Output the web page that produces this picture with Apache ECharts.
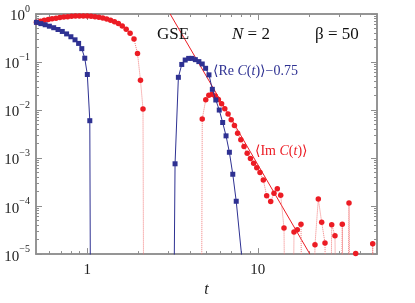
<!DOCTYPE html>
<html><head><meta charset="utf-8">
<script src="https://cdn.jsdelivr.net/npm/echarts@6/dist/echarts.min.js"></script>
<style>html,body{margin:0;padding:0;background:#fff}#c{width:415px;height:303px}</style>
</head><body><div id="c"></div>
<script>
// 0 marks a value that is zero or negative (off the log scale, drawn down to the axis)
// <Re C(t)> - 0.75, first branch
const BLUE1_T = [0.503,0.534,0.566,0.599,0.635,0.673,0.713,0.756,0.801,0.847,0.889,0.928,0.966,1.0,1.034,1.058];
const BLUE1_V = [0.67,0.63,0.597,0.557,0.518,0.476,0.433,0.385,0.336,0.290,0.244,0.19,0.12,0.055,0.006,0];
// <Re C(t)> - 0.75, second branch
const BLUE2_T = [3.12,3.27,3.42,3.58,3.75,3.93,4.11,4.30,4.51,4.72,4.94,5.17,5.41,5.67,5.94,6.22,6.51,6.81,7.13,7.47,8.08];
const BLUE2_V = [0,7.6e-4,0.048,0.089,0.110,0.119,0.119,0.112,0.102,0.091,0.074,0.054,0.027,0.0162,0.010,0.0055,0.0029,0.00132,4.6e-4,1.26e-4,7.6e-6];
// <Im C(t)>
const RED_T = [0.503,0.531,0.559,0.590,0.621,0.655,0.690,0.728,0.767,0.809,0.852,0.898,0.947,0.998,1.052,1.109,1.169,1.232,1.299,1.369,1.443,1.521,1.603,1.690,1.782,1.878,1.969,2.050,2.121,2.164,
  4.62,4.72,4.95,5.16,5.39,5.62,5.87,6.13,6.40,6.69,6.98,7.29,7.61,7.95,8.30,8.66,9.05,9.45,9.86,10.3,10.77,11.27,11.9,12.44,13.01,13.62,14.24,14.91,15.61,16.30,17.04,17.91,18.76,19.64,20.56,21.64,22.63,23.69,24.77,25.94,27.12,28.35,29.69,31.29,32.72,34.26,35.87,37.5,39.27,41.11,43.04,45.06,47.18,49.4];
const RED_V = [0.670,0.705,0.738,0.766,0.794,0.820,0.843,0.863,0.879,0.895,0.908,0.912,0.912,0.908,0.895,0.879,0.855,0.824,0.787,0.741,0.692,0.631,0.562,0.479,0.398,0.302,0.151,0.0417,0.0105,0,
  0,0.00652,0.01637,0.0204,0.0214,0.0195,0.0166,0.0135,0.0107,0.0083,0.0063,0.00479,0.0033,0.0024,0.00174,0.00126,9.8e-4,7.8e-4,6.3e-4,5.0e-4,3.5e-4,1.64e-4,1.24e-4,1.85e-4,2.3e-4,1.68e-4,3.5e-5,0,0,2.9e-5,3.2e-5,4.2e-5,0,0,0,1.56e-5,1.4e-4,4.6e-5,1.71e-5,0,4.1e-5,2.4e-5,0,4.2e-5,0,1.16e-4,0,1.03e-5,0,0,0,0,1.64e-5,0];
// power-law guide line for <Im C(t)>
const FIT_T = [3.06, 20.2];
const FIT_V = [1, 1e-5];
// axis ticks and labels
const X_LABELS = [1, 10];
const X_MAJOR = [1, 10];
const X_MINOR = [0.6,0.7,0.8,0.9,2,3,4,5,6,7,8,9,20,30,40];
const Y_MAJOR = [1e-5,1e-4,1e-3,1e-2,1e-1,1];
const Y_MINOR = [2e-5,3e-5,4e-5,5e-5,6e-5,7e-5,8e-5,9e-5,
  2e-4,3e-4,4e-4,5e-4,6e-4,7e-4,8e-4,9e-4,
  2e-3,3e-3,4e-3,5e-3,6e-3,7e-3,8e-3,9e-3,
  2e-2,3e-2,4e-2,5e-2,6e-2,7e-2,8e-2,9e-2,
  2e-1,3e-1,4e-1,5e-1,6e-1,7e-1,8e-1,9e-1];

const OFF = 1e-12; // plotting stand-in for non-positive values
const SERIF = '"Liberation Serif","DejaVu Serif",serif';
const BLUE = '#2e3192', RED = '#ec1c24', AX = '#8e8e8e';

function pts(T, V) {
  return T.map((t, i) => V[i] > 0 ? [t, V[i]] : { value: [t, OFF], symbol: 'none' });
}
function xAx(pos, ticks, len, labels) {
  return {
    type: 'log', logBase: 10, min: 0.5, max: 50, position: pos,
    axisLine: { show: true, onZero: false, lineStyle: { color: AX, width: 1.5 } },
    axisTick: { show: true, inside: true, length: len, customValues: ticks, lineStyle: { color: AX, width: 1 } },
    axisLabel: labels ? { show: true, customValues: labels, margin: 8, fontFamily: SERIF, fontSize: 15, color: '#222' } : { show: false },
    splitLine: { show: false }, minorTick: { show: false },
    name: labels ? 't' : '', nameLocation: 'middle', nameGap: 24,
    nameTextStyle: { fontFamily: SERIF, fontSize: 16, fontStyle: 'italic', color: '#222' }
  };
}
function yAx(pos, ticks, len, labels) {
  return {
    type: 'log', logBase: 10, min: 1e-5, max: 1, position: pos,
    axisLine: { show: true, onZero: false, lineStyle: { color: AX, width: 1.5 } },
    axisTick: { show: true, inside: true, length: len, customValues: ticks, lineStyle: { color: AX, width: 1 } },
    axisLabel: labels ? {
      show: true, customValues: labels, margin: 6,
      formatter: v => { const e = Math.round(Math.log10(v)); return '{b|10}{s|' + (e === 0 ? '0' : '\u2212' + (-e)) + '}'; },
      rich: {
        b: { fontFamily: SERIF, fontSize: 15, color: '#222', lineHeight: 20, verticalAlign: 'bottom' },
        s: { fontFamily: SERIF, fontSize: 10, color: '#222', lineHeight: 20, verticalAlign: 'top' }
      }
    } : { show: false },
    splitLine: { show: false }, minorTick: { show: false }
  };
}
function txt(x, y, text, size, color, rich) {
  return { type: 'text', x: x, y: y, z: 100,
    style: { text: text, fill: color, font: size + 'px ' + SERIF, textVerticalAlign: 'middle', rich: rich || {} } };
}
function rs(size, color, italic) {
  return { fontFamily: SERIF, fontSize: size, color: color, fontStyle: italic ? 'italic' : 'normal' };
}

const chart = echarts.init(document.getElementById('c'), null, { renderer: 'canvas' });
chart.setOption({
  animation: false,
  backgroundColor: '#fff',
  grid: { left: 36, right: 38, top: 14, bottom: 39 },
  xAxis: [xAx('bottom', X_MINOR, 3, X_LABELS), xAx('bottom', X_MAJOR, 6, null),
          xAx('top', X_MINOR, 3, null), xAx('top', X_MAJOR, 6, null)],
  yAxis: [yAx('left', Y_MINOR, 3, Y_MAJOR), yAx('left', Y_MAJOR, 6, null),
          yAx('right', Y_MINOR, 3, null), yAx('right', Y_MAJOR, 6, null)],
  series: [
    { type: 'line', data: pts(FIT_T, FIT_V), symbol: 'none', clip: true,
      lineStyle: { color: RED, width: 1 }, z: 1 },
    { type: 'line', data: pts(RED_T, RED_V), symbol: 'circle', symbolSize: 5.5, clip: true,
      itemStyle: { color: RED }, lineStyle: { color: '#f17a7a', width: 1, type: 'dotted' }, z: 2 },
    { type: 'line', data: pts(BLUE1_T, BLUE1_V), symbol: 'rect', symbolSize: 5, clip: true,
      itemStyle: { color: BLUE }, lineStyle: { color: BLUE, width: 1 }, z: 3 },
    { type: 'line', data: pts(BLUE2_T, BLUE2_V), symbol: 'rect', symbolSize: 5, clip: true,
      itemStyle: { color: BLUE }, lineStyle: { color: BLUE, width: 1 }, z: 3 }
  ],
  graphic: [
    txt(157, 35, 'GSE', 17, '#111'),
    txt(232, 35, '{i|N} = 2', 17, '#111', { i: rs(17, '#111', true) }),
    txt(315, 35, '\u03b2 = 50', 17, '#111'),
    txt(213, 71, '\u27e8Re {i|C}({i|t})\u27e9\u22120.75', 14, BLUE, { i: rs(14, BLUE, true) }),
    txt(255, 151, '\u27e8Im {i|C}({i|t})\u27e9', 14, RED, { i: rs(14, RED, true) })
  ]
});
</script></body></html>
